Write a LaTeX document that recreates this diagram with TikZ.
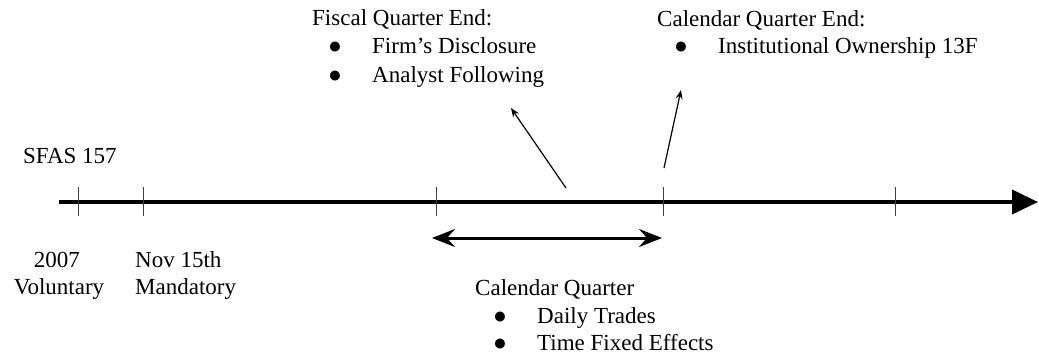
\documentclass[tikz,border=0pt]{standalone}
\usepackage{fontspec}
\setmainfont{Liberation Serif}
\usetikzlibrary{arrows.meta}
\begin{document}
\begin{tikzpicture}[x=1pt,y=-1pt,
  lbl/.style={inner sep=0pt,anchor=base west,font=\fontsize{23}{28}\selectfont},
  bul/.style={lbl},
  tick/.style={line width=1pt,draw=black!75},
  pointer/.style={line width=1.2pt,-{Stealth[length=9pt,width=7pt]}}]
\useasboundingbox (0,0) rectangle (1039,361);
% main timeline
\coordinate (ls) at (59,202);
\coordinate (le) at (1038,202);
\draw[line width=4pt,-{Triangle[length=26pt,width=24pt]}] (ls) -- (le);
% ticks
\foreach \n/\x in {t1/78,t2/143,t3/436,t4/663,t5/895}{
  \coordinate (\n a) at (\x,187);
  \coordinate (\n b) at (\x,216);
  \draw[tick] (\n a) -- (\n b);
}
% calendar quarter double arrow
\coordinate (da) at (432,238);
\coordinate (db) at (662,238);
\draw[line width=3pt,{Stealth[length=23pt,width=18pt,inset=8pt]}-{Stealth[length=23pt,width=18pt,inset=8pt]}] (da) -- (db);
% pointers
\coordinate (p1s) at (566,188);
\coordinate (p1e) at (511,108);
\draw[pointer] (p1s) -- (p1e);
\coordinate (p2s) at (664,168);
\coordinate (p2e) at (681,90);
\draw[pointer] (p2s) -- (p2e);
% texts
\node[lbl] (sfas) at (23,163) {SFAS 157};
\node[lbl,anchor=base] (y2007) at (57,267) {2007};
\node[lbl,anchor=base] (vol) at (59,294) {Voluntary};
\node[lbl] (nov) at (135,267) {Nov 15th};
\node[lbl] (mand) at (135,294) {Mandatory};
\node[lbl] (fqe) at (312,26) {Fiscal Quarter End:};
\node[bul] (fqe1) at (328,54) {\makebox[44pt][l]{●}Firm’s Disclosure};
\node[bul] (fqe2) at (328,82) {\makebox[44pt][l]{●}Analyst Following};
\node[lbl] (cqe) at (657,27) {Calendar Quarter End:};
\node[bul] (cqe1) at (674,54) {\makebox[44pt][l]{●}Institutional Ownership 13F};
\node[lbl] (cq) at (475,295) {Calendar Quarter};
\node[bul] (cq1) at (493,323) {\makebox[44pt][l]{●}Daily Trades};
\node[bul] (cq2) at (493,350) {\makebox[44pt][l]{●}Time Fixed Effects};
\end{tikzpicture}
\end{document}
